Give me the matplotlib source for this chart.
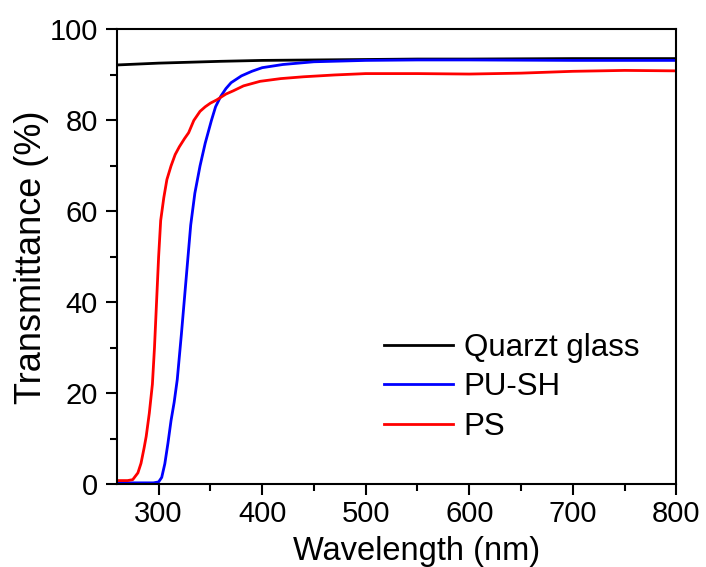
import matplotlib
matplotlib.use('Agg')
import matplotlib.pyplot as plt
from matplotlib.ticker import MultipleLocator

plt.rcParams['font.family'] = ['Liberation Sans', 'DejaVu Sans']

# Quartz glass reference
quartz_wl = [260, 280, 300, 330, 360, 400, 450, 500, 550, 600, 700, 800]
quartz_t = [92.2, 92.4, 92.6, 92.8, 93.0, 93.2, 93.3, 93.4, 93.5, 93.5, 93.6, 93.6]

# PU-SH film
push_wl = [260, 280, 295, 300, 303, 306, 309, 312, 315, 318, 322, 325, 328, 331,
           335, 340, 345, 351, 355, 360, 365, 370, 380, 390, 400, 420, 450, 500,
           550, 600, 700, 800]
push_t = [0.3, 0.3, 0.3, 0.5, 1.5, 4.5, 9, 14, 18, 23, 33, 41, 49, 57,
          64, 70, 75, 80, 83, 85.3, 87, 88.3, 89.8, 90.8, 91.6, 92.3, 92.9, 93.2,
          93.3, 93.3, 93.2, 93.2]

# PS film
ps_wl = [260, 270, 275, 280, 283, 286, 288, 291, 294, 296, 298, 300, 302, 305,
         308, 312, 316, 320, 325, 329, 334, 340, 345, 350, 356, 365, 372, 382,
         398, 418, 440, 470, 500, 550, 600, 650, 700, 750, 800]
ps_t = [0.8, 0.8, 1.0, 2.5, 4.6, 8, 10.5, 15.6, 22, 30, 40, 50, 58, 63,
        67, 70, 72.5, 74.2, 76, 77.3, 80, 82, 83, 83.8, 84.5, 85.8, 86.5, 87.6,
        88.6, 89.2, 89.6, 90.0, 90.3, 90.3, 90.2, 90.4, 90.8, 91.0, 90.9]

fig = plt.figure(figsize=(7.06, 5.67), dpi=100)
ax = fig.add_axes([0.166, 0.146, 0.792, 0.802])

ax.plot(quartz_wl, quartz_t, color='black', lw=2, label='Quarzt glass')
ax.plot(push_wl, push_t, color='blue', lw=2, label='PU-SH')
ax.plot(ps_wl, ps_t, color='red', lw=2, label='PS')

ax.set_xlim(260, 800)
ax.set_ylim(0, 100)
ax.xaxis.set_major_locator(MultipleLocator(100))
ax.xaxis.set_minor_locator(MultipleLocator(50))
ax.yaxis.set_major_locator(MultipleLocator(20))
ax.yaxis.set_minor_locator(MultipleLocator(10))
ax.tick_params(which='major', direction='out', length=8, width=1.5, labelsize=21)
ax.tick_params(which='minor', direction='out', length=5, width=1.5)
ax.tick_params(axis='y', which='major', pad=6)
for s in ax.spines.values():
    s.set_linewidth(1.5)

ax.set_xlabel('Wavelength (nm)', fontsize=23.5)
ax.xaxis.set_label_coords(0.535, -0.113, transform=ax.transAxes)
ax.set_ylabel('Transmittance (%)', fontsize=26, labelpad=0)

ax.legend(loc='upper left', bbox_to_anchor=(0.544, 0.413),
          bbox_transform=fig.transFigure, frameon=False, fontsize=22.5,
          handlelength=2.2, handletextpad=0.35, labelspacing=0.3,
          borderpad=0, borderaxespad=0)

fig.savefig('out.png', dpi=100)
